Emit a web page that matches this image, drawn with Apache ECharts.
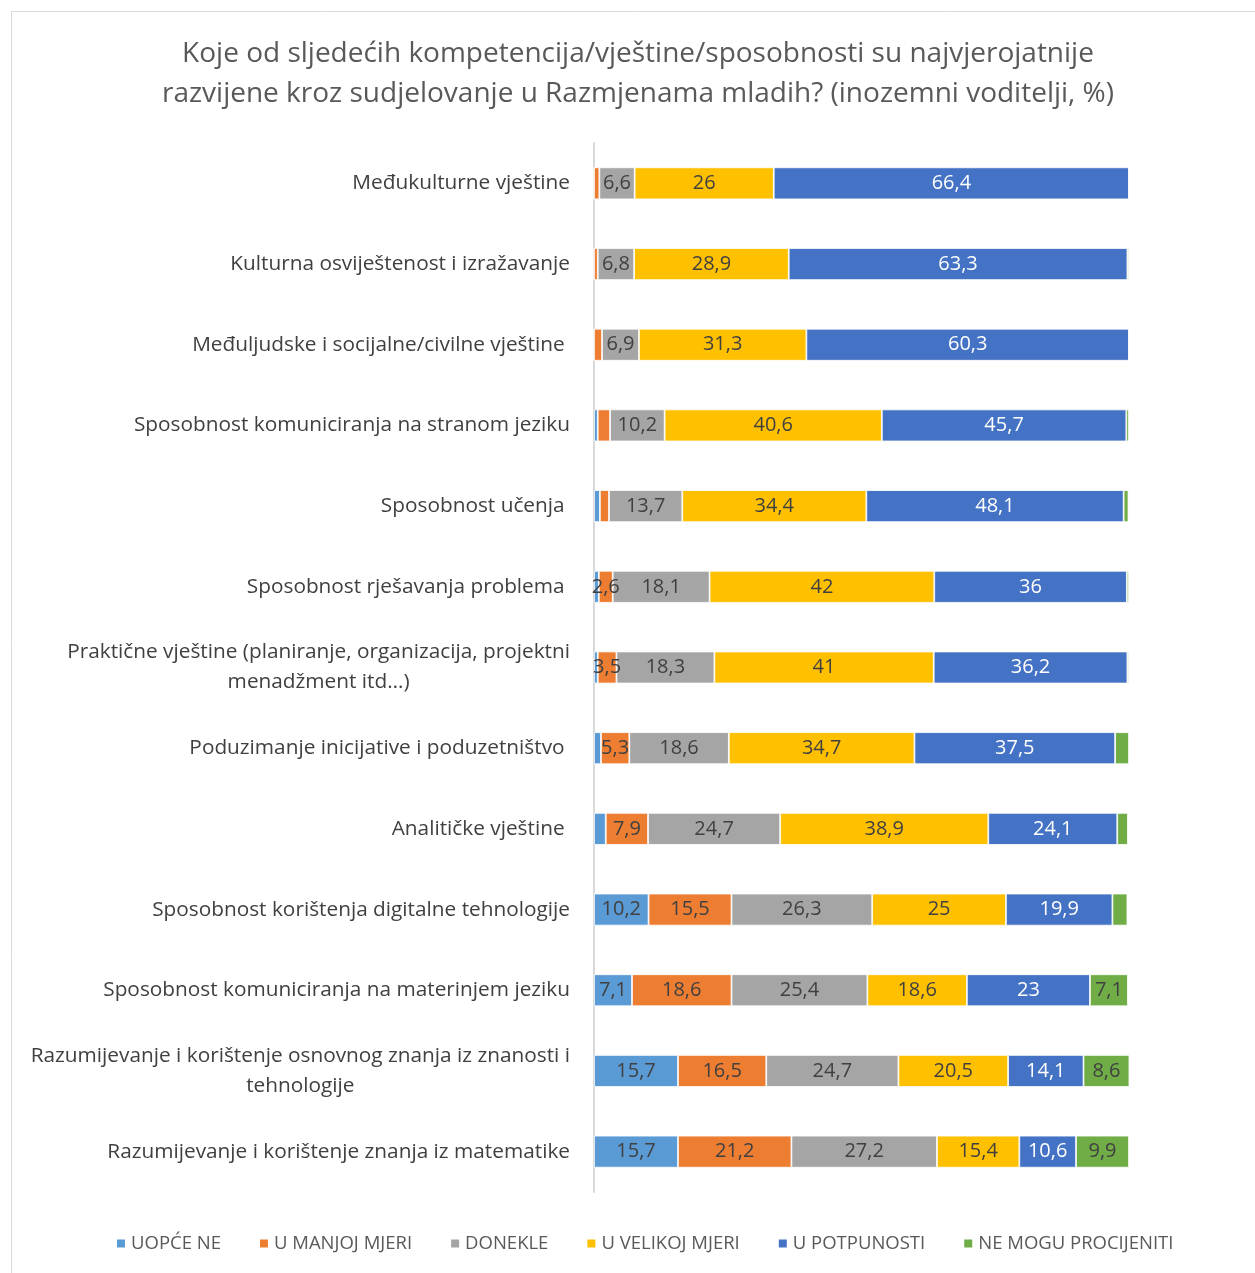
<!DOCTYPE html>
<html>
<head>
<meta charset="utf-8">
<script src="https://cdn.jsdelivr.net/npm/echarts@6/dist/echarts.min.js"></script>
<style>
  html, body { margin: 0; padding: 0; background: #ffffff; }
  #chart { width: 1255px; height: 1273px; }
</style>
</head>
<body>
<div id="chart"></div>
<script>
// Competences, top to bottom as drawn
const categories = [
  'Međukulturne vještine',
  'Kulturna osviještenost i izražavanje',
  'Međuljudske i socijalne/civilne vještine ',
  'Sposobnost komuniciranja na stranom jeziku',
  'Sposobnost učenja ',
  'Sposobnost rješavanja problema ',
  'Praktične vještine (planiranje, organizacija, projektni\nmenadžment itd…)',
  'Poduzimanje inicijative i poduzetništvo ',
  'Analitičke vještine ',
  'Sposobnost korištenja digitalne tehnologije',
  'Sposobnost komuniciranja na materinjem jeziku',
  'Razumijevanje i korištenje osnovnog znanja iz znanosti i\ntehnologije',
  'Razumijevanje i korištenje znanja iz matematike'
];

const seriesNames = ['UOPĆE NE', 'U MANJOJ MJERI', 'DONEKLE', 'U VELIKOJ MJERI', 'U POTPUNOSTI', 'NE MOGU PROCIJENITI'];

// Shares in %, same order as categories
const uopceNe       = [0,   0,   0,   0.7, 1.1, 0.9, 0.7, 1.3, 2.2, 10.2, 7.1,  15.7, 15.7];
const uManjojMjeri  = [1.0, 0.7, 1.5, 2.3, 1.7, 2.6, 3.5, 5.3, 7.9, 15.5, 18.6, 16.5, 21.2];
const donekle       = [6.6, 6.8, 6.9, 10.2, 13.7, 18.1, 18.3, 18.6, 24.7, 26.3, 25.4, 24.7, 27.2];
const uVelikojMjeri = [26, 28.9, 31.3, 40.6, 34.4, 42, 41, 34.7, 38.9, 25, 18.6, 20.5, 15.4];
const uPotpunosti   = [66.4, 63.3, 60.3, 45.7, 48.1, 36, 36.2, 37.5, 24.1, 19.9, 23, 14.1, 10.6];
const neMogu        = [0,   0.3, 0,   0.5, 0.9, 0.4, 0.3, 2.6, 2.0, 2.8, 7.1, 8.6, 9.9];

const values = [uopceNe, uManjojMjeri, donekle, uVelikojMjeri, uPotpunosti, neMogu];
const colors = ['#5B9BD5', '#ED7D31', '#A5A5A5', '#FFC000', '#4472C4', '#70AD47'];
const labelColors = ['#404040', '#404040', '#404040', '#404040', '#ffffff', '#404040'];
// smallest segment that still carries a value label, per series
const labelMin = [2.5, 2.5, 2.5, 2.5, 2.5, 5];

const FONT = 'Open Sans';

function fmt(v) {
  return String(v).replace('.', ',');
}

const series = seriesNames.map((name, i) => ({
  name: name,
  type: 'bar',
  stack: 'total',
  barWidth: 32,
  data: values[i],
  itemStyle: { color: colors[i], borderColor: '#ffffff', borderWidth: 0.8 },
  label: {
    show: true,
    position: 'inside',
    fontFamily: FONT,
    fontSize: 20,
    color: labelColors[i],
    formatter: p => (p.value >= labelMin[i] ? fmt(p.value) : '')
  },
  emphasis: { disabled: true }
}));

const chart = echarts.init(document.getElementById('chart'), null, { renderer: 'canvas' });

chart.setOption({
  animation: false,
  backgroundColor: '#ffffff',
  textStyle: { fontFamily: FONT },
  graphic: [{
    type: 'rect',
    shape: { x: 11.5, y: 11.5, width: 1260, height: 1280 },
    style: { fill: 'none', stroke: '#d9d9d9', lineWidth: 1 },
    silent: true,
    z: -1
  }],
  title: {
    text: 'Koje od sljedećih kompetencija/vještine/sposobnosti su najvjerojatnije\nrazvijene kroz sudjelovanje u Razmjenama mladih? (inozemni voditelji, %)',
    left: 633,
    top: 29,
    textAlign: 'center',
    textStyle: {
      fontFamily: FONT,
      fontSize: 28,
      fontWeight: 'normal',
      color: '#595959',
      lineHeight: 40
    }
  },
  legend: {
    data: seriesNames,
    bottom: 15,
    left: 110,
    itemWidth: 10,
    itemHeight: 10,
    itemGap: 37,
    icon: 'rect',
    textStyle: { fontFamily: FONT, fontSize: 18.5, color: '#595959' }
  },
  grid: {
    left: 594,
    right: 126,
    top: 143,
    bottom: 81,
    containLabel: false
  },
  xAxis: {
    type: 'value',
    min: 0,
    max: 100,
    show: false
  },
  yAxis: {
    type: 'category',
    inverse: true,
    data: categories,
    axisLine: { show: true, lineStyle: { color: '#d9d9d9', width: 2 } },
    axisTick: { show: false },
    axisLabel: {
      margin: 24,
      fontFamily: FONT,
      fontSize: 20.8,
      color: '#404040',
      lineHeight: 30,
      formatter: v => {
        if (v.indexOf('\n') < 0) return v;
        return v.split('\n').map(s => '{c|' + s + '}').join('\n');
      },
      rich: {
        c: { align: 'center', fontFamily: FONT, fontSize: 20.8, color: '#404040', lineHeight: 30 }
      }
    }
  },
  series: series
});
</script>
</body>
</html>
